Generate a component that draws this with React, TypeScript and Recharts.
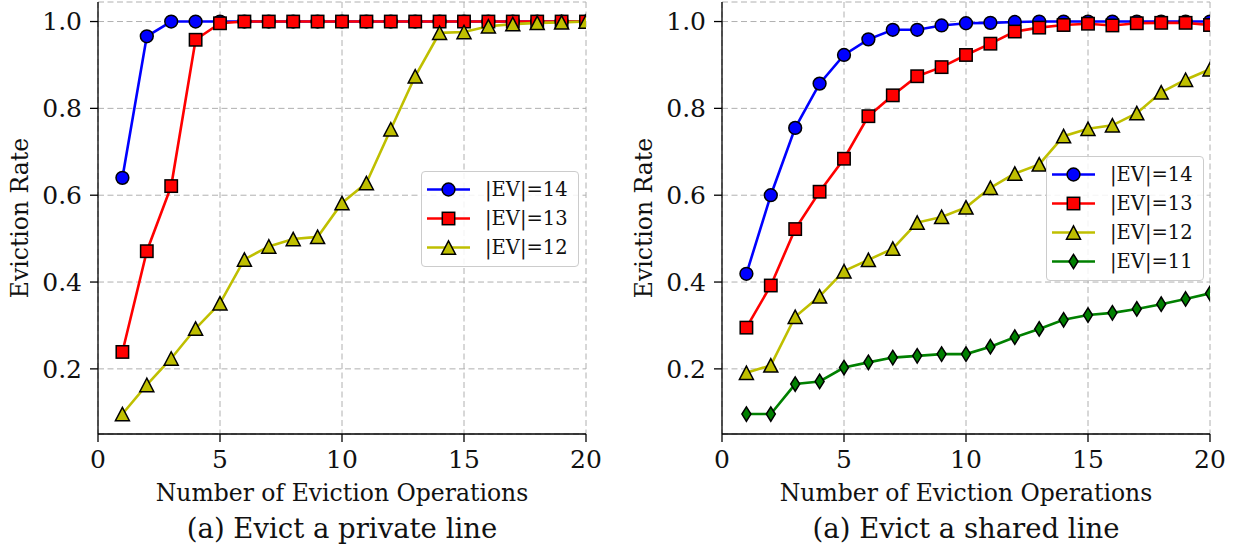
import React from 'react';
import { LineChart, Line, XAxis, YAxis, CartesianGrid, Legend, Label } from 'recharts';

const OPS = [1, 2, 3, 4, 5, 6, 7, 8, 9, 10, 11, 12, 13, 14, 15, 16, 17, 18, 19, 20];
const X_TICKS = [0, 5, 10, 15, 20];
const Y_TICKS = [0.2, 0.4, 0.6, 0.8, 1.0];

// (a) Evict a private line
const PRIV_EV14 = [0.64, 0.966, 1, 1, 1, 1, 1, 1, 1, 1, 1, 1, 1, 1, 1, 1, 1, 1, 1, 1];
const PRIV_EV13 = [0.239, 0.471, 0.621, 0.958, 0.996, 1, 1, 1, 1, 1, 1, 1, 1, 1, 1, 1, 1, 1, 1, 1];
const PRIV_EV12 = [0.096, 0.163, 0.224, 0.293, 0.351, 0.452, 0.482, 0.499, 0.504, 0.582, 0.628, 0.752, 0.874, 0.974, 0.976, 0.989, 0.994, 0.997, 0.998, 1.0];

// (a) Evict a shared line
const SHR_EV14 = [0.419, 0.6, 0.755, 0.857, 0.923, 0.959, 0.981, 0.981, 0.991, 0.996, 0.997, 0.999, 1, 1, 1, 1, 1, 1, 1, 1];
const SHR_EV13 = [0.295, 0.392, 0.522, 0.608, 0.684, 0.782, 0.83, 0.874, 0.895, 0.923, 0.949, 0.977, 0.986, 0.992, 0.995, 0.991, 0.996, 0.997, 0.997, 0.992];
const SHR_EV12 = [0.191, 0.208, 0.32, 0.367, 0.425, 0.451, 0.477, 0.537, 0.55, 0.572, 0.617, 0.65, 0.671, 0.736, 0.753, 0.761, 0.789, 0.837, 0.866, 0.89];
const SHR_EV11 = [0.096, 0.096, 0.165, 0.171, 0.203, 0.215, 0.226, 0.23, 0.234, 0.234, 0.251, 0.273, 0.292, 0.313, 0.324, 0.329, 0.338, 0.349, 0.361, 0.374];

const FONT = '"DejaVu Serif", serif';
const TEXT = '#111';

type MarkerKind = 'circle' | 'square' | 'triangle' | 'diamond';

const Marker = ({ cx, cy, kind, fill }: { cx: number; cy: number; kind: MarkerKind; fill: string }) => {
  if (cx == null || cy == null || isNaN(cx) || isNaN(cy)) return null;
  const sw = 1.5;
  if (kind === 'circle') return <circle cx={cx} cy={cy} r={6.4} fill={fill} stroke="#000" strokeWidth={sw} />;
  if (kind === 'square') return <rect x={cx - 6.2} y={cy - 6.2} width={12.4} height={12.4} fill={fill} stroke="#000" strokeWidth={sw} />;
  if (kind === 'triangle')
    return <polygon points={`${cx},${cy - 6.7} ${cx - 7},${cy + 6.7} ${cx + 7},${cy + 6.7}`} fill={fill} stroke="#000" strokeWidth={sw} strokeLinejoin="miter" />;
  return <polygon points={`${cx},${cy - 7.2} ${cx + 4.5},${cy} ${cx},${cy + 7.2} ${cx - 4.5},${cy}`} fill={fill} stroke="#000" strokeWidth={sw} />;
};

type Series = { key: string; name: string; color: string; kind: MarkerKind; values: number[] };

const PRIVATE_SERIES: Series[] = [
  { key: 'ev14', name: '|EV|=14', color: '#0000ff', kind: 'circle', values: PRIV_EV14 },
  { key: 'ev13', name: '|EV|=13', color: '#ff0000', kind: 'square', values: PRIV_EV13 },
  { key: 'ev12', name: '|EV|=12', color: '#bfbf00', kind: 'triangle', values: PRIV_EV12 },
];
const SHARED_SERIES: Series[] = [
  { key: 'ev14', name: '|EV|=14', color: '#0000ff', kind: 'circle', values: SHR_EV14 },
  { key: 'ev13', name: '|EV|=13', color: '#ff0000', kind: 'square', values: SHR_EV13 },
  { key: 'ev12', name: '|EV|=12', color: '#bfbf00', kind: 'triangle', values: SHR_EV12 },
  { key: 'ev11', name: '|EV|=11', color: '#008000', kind: 'diamond', values: SHR_EV11 },
];

const LegendBox = ({ series }: { series: Series[] }) => (
  <div
    style={{
      border: '1px solid #cccccc',
      borderRadius: 4,
      background: 'rgba(255,255,255,0.85)',
      padding: '3px 10px 4px 0',
      fontFamily: FONT,
      boxSizing: 'border-box',
    }}
  >
    {series.map((s) => (
      <div key={s.key} style={{ display: 'flex', alignItems: 'center', height: 29 }}>
        <svg width={58} height={29} style={{ flex: 'none' }}>
          <line x1={5} x2={48} y1={14.5} y2={14.5} stroke={s.color} strokeWidth={2.5} />
          <Marker cx={26.5} cy={14.5} kind={s.kind} fill={s.color} />
        </svg>
        <span style={{ fontSize: 19.5, color: TEXT, marginLeft: 5, lineHeight: '29px', whiteSpace: 'nowrap' }}>{s.name}</span>
      </div>
    ))}
  </div>
);

const Panel = ({
  left,
  series,
  caption,
  legendLeft,
  legendTop,
}: {
  left: number;
  series: Series[];
  caption: string;
  legendLeft: number;
  legendTop: number;
}) => {
  const data = OPS.map((x, i) => {
    const row: Record<string, number> = { x };
    series.forEach((s) => {
      row[s.key] = s.values[i];
    });
    return row;
  });
  const tickStyle = { fontSize: 25, fill: TEXT, fontFamily: FONT };
  return (
    <div style={{ position: 'absolute', left, top: 0 }}>
      <LineChart width={612} height={550} data={data} margin={{ top: 2, right: 26, left: 0, bottom: 0 }}>
        <CartesianGrid stroke="#b0b0b0" strokeDasharray="6 3.5" strokeWidth={1} />
        <XAxis
          dataKey="x"
          type="number"
          domain={[0, 20]}
          ticks={X_TICKS}
          height={116}
          tickSize={8}
          tickMargin={8}
          tick={tickStyle}
          stroke="#000"
          strokeWidth={1.3}
          allowDataOverflow
        >
          <Label
            content={(p: any) => {
              const vb = p.viewBox || {};
              const cx = vb.x + vb.width / 2;
              return (
                <g>
                  <text x={cx} y={vb.y + 59} textAnchor="middle" dominantBaseline="central" fontSize={23.5} fill={TEXT} fontFamily={FONT}>
                    Number of Eviction Operations
                  </text>
                  <text x={cx} y={vb.y + 94} textAnchor="middle" dominantBaseline="central" fontSize={27.5} fill={TEXT} fontFamily={FONT}>
                    {caption}
                  </text>
                </g>
              );
            }}
          />
        </XAxis>
        <XAxis xAxisId="top" orientation="top" type="number" domain={[0, 20]} height={0} tick={false} tickLine={false} stroke="#000" strokeWidth={1.3} />
        <YAxis
          type="number"
          domain={[0.05, 1.045]}
          ticks={Y_TICKS}
          tickFormatter={(v: number) => v.toFixed(1)}
          width={98}
          tickSize={8}
          tickMargin={8}
          tick={tickStyle}
          stroke="#000"
          strokeWidth={1.3}
          allowDataOverflow
        >
          <Label
            content={(p: any) => {
              const vb = p.viewBox || {};
              const cx = vb.x + 20;
              const cy = vb.y + vb.height / 2;
              return (
                <text x={cx} y={cy} transform={`rotate(-90 ${cx} ${cy})`} textAnchor="middle" dominantBaseline="central" fontSize={23.5} fill={TEXT} fontFamily={FONT}>
                  Eviction Rate
                </text>
              );
            }}
          />
        </YAxis>
        <YAxis yAxisId="right" orientation="right" type="number" domain={[0.05, 1.045]} width={0} tick={false} tickLine={false} stroke="#000" strokeWidth={1.3} />
        {series.map((s) => (
          <Line
            key={s.key}
            dataKey={s.key}
            name={s.name}
            stroke={s.color}
            strokeWidth={2.6}
            isAnimationActive={false}
            dot={(props: any) => <Marker key={`${s.key}-${props.index}`} cx={props.cx} cy={props.cy} kind={s.kind} fill={s.color} />}
            activeDot={false}
          />
        ))}
        <Legend
          layout="vertical"
          align="center"
          verticalAlign="middle"
          wrapperStyle={{ left: legendLeft, top: legendTop, width: 'auto', height: 'auto' }}
          content={() => <LegendBox series={series} />}
        />
      </LineChart>
    </div>
  );
};

export default function App() {
  return (
    <div style={{ position: 'absolute', left: 0, top: 0, width: 1236, height: 550, background: '#fff', fontFamily: FONT, overflow: 'hidden' }}>
      <style>{`.recharts-cartesian-axis-tick-value, .recharts-cartesian-axis-tick-value tspan { font-family: "DejaVu Serif", serif !important; }`}</style>
      <Panel left={0} series={PRIVATE_SERIES} caption="(a) Evict a private line" legendLeft={421} legendTop={171} />
      <Panel left={624} series={SHARED_SERIES} caption="(a) Evict a shared line" legendLeft={422} legendTop={156} />
    </div>
  );
}
